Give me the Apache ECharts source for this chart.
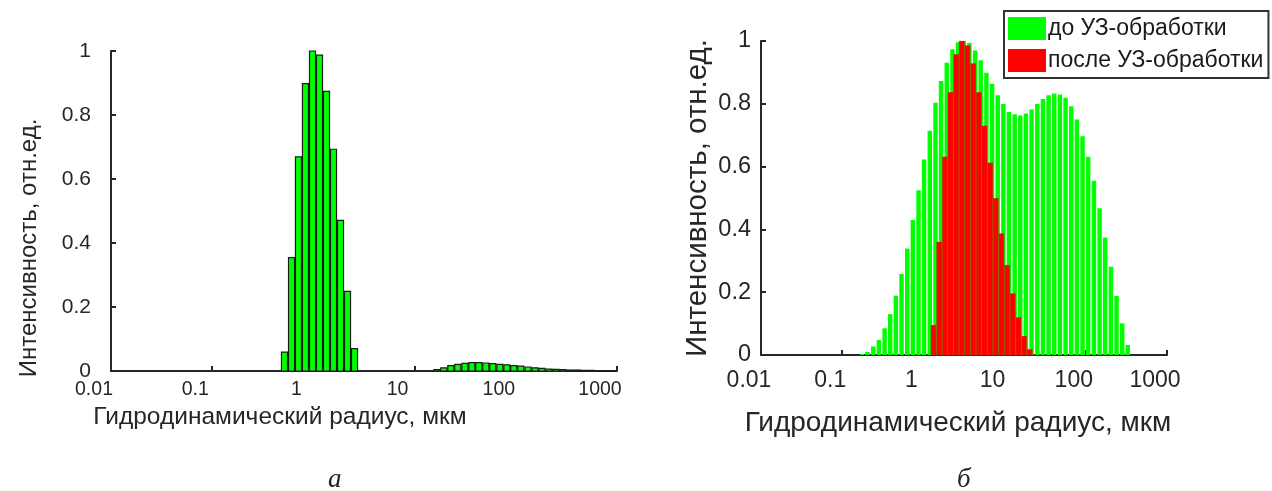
<!DOCTYPE html>
<html>
<head>
<meta charset="utf-8">
<script src="https://cdn.jsdelivr.net/npm/echarts@6/dist/echarts.min.js"></script>
<style>
  html, body { margin: 0; padding: 0; background: #fff; }
  #chart { width: 1272px; height: 491px; }
</style>
</head>
<body>
<div id="chart"></div>
<script>
// panel a: bin centres (um) and intensity
var leftRadius = [0.518, 0.608, 0.712, 0.835, 0.98, 1.149, 1.347, 1.58, 1.853, 2.173, 2.548,
  16.6, 19.4, 22.8, 26.7, 31.4, 36.8, 43.1, 50.6, 59.3, 69.6, 81.6, 95.7, 112, 132, 155,
  181, 213, 250, 293, 343, 403, 472, 554, 650, 762, 894];
var leftIntensity = [0.059, 0.354, 0.669, 0.898, 1.0, 0.987, 0.874, 0.693, 0.471, 0.249, 0.07,
  0.004, 0.01, 0.017, 0.021, 0.024, 0.026, 0.026, 0.025, 0.023, 0.021, 0.019, 0.017, 0.015, 0.0125, 0.01,
  0.008, 0.006, 0.005, 0.004, 0.003, 0.003, 0.002, 0.002, 0.001, 0.001, 0.001];

// panel b: before ultrasound
var beforeRadius = [0.175, 0.2055, 0.241, 0.283, 0.333, 0.39, 0.458, 0.538, 0.632, 0.742, 0.871, 1.02,
  1.2, 1.41, 1.65, 1.94, 2.28, 2.68, 3.14, 3.69, 4.33, 5.08, 5.97, 7.01, 8.23, 9.66, 11.3, 13.3,
  15.6, 18.3, 21.5, 25.3, 29.7, 34.8, 40.9, 48.0, 56.4, 66.2, 77.7, 91.2, 107, 126, 148, 173,
  204, 239, 281, 329];
var beforeIntensity = [0.003, 0.0095, 0.027, 0.048, 0.085, 0.13, 0.189, 0.258, 0.339, 0.43, 0.525, 0.623,
  0.714, 0.803, 0.873, 0.931, 0.974, 0.996, 1.0, 0.994, 0.97, 0.939, 0.899, 0.864, 0.827, 0.799, 0.774, 0.767,
  0.763, 0.769, 0.782, 0.799, 0.815, 0.827, 0.833, 0.83, 0.819, 0.792, 0.75, 0.697, 0.631, 0.555,
  0.467, 0.374, 0.281, 0.188, 0.101, 0.032];

// panel b: after ultrasound
var afterRadius = [1.335, 1.567, 1.84, 2.16, 2.536, 2.977, 3.495, 4.103, 4.817, 5.655, 6.639, 7.794,
  9.15, 10.74, 12.61, 14.8, 17.38, 20.4];
var afterIntensity = [0.095, 0.36, 0.631, 0.837, 0.958, 1.0, 0.986, 0.928, 0.837, 0.73, 0.612, 0.499,
  0.387, 0.286, 0.196, 0.12, 0.06, 0.018];

var xTickLabels = ['0.01', '0.1', '1', '10', '100', '1000'];
var seriesNames = ['до УЗ-обработки', 'после УЗ-обработки'];
var xName = 'Гидродинамический радиус, мкм';
var yName = 'Интенсивность, отн.ед.';

var binRatio = 1.1735;
var axisColor = '#262626';
var font = 'Liberation Sans, Arial, sans-serif';

function pairs(xs, ys) {
  return xs.map(function (x, i) { return [x, ys[i]]; });
}

function barRenderer(fill, stroke, lineWidth, gap) {
  return function (params, api) {
    var s = Math.sqrt(binRatio);
    var c = api.value(0);
    var p0 = api.coord([c / s, api.value(1)]);
    var p1 = api.coord([c * s, 0]);
    return {
      type: 'rect',
      shape: { x: p0[0] + gap / 2, y: p0[1], width: p1[0] - p0[0] - gap, height: p1[1] - p0[1] },
      style: { fill: fill, stroke: stroke, lineWidth: lineWidth }
    };
  };
}

function xAxisCfg(grid, fs, shift, margin, nameGap, nameShift, nameFs) {
  return {
    gridIndex: grid,
    type: 'log',
    logBase: 10,
    min: 0.01,
    max: 1000,
    name: xName,
    nameLocation: 'middle',
    nameGap: nameGap,
    nameTextStyle: { fontSize: nameFs, color: axisColor, fontFamily: font, padding: [0, nameShift, 0, 0] },
    axisLine: { lineStyle: { color: axisColor, width: 2 } },
    axisTick: { inside: true, length: 5, lineStyle: { color: axisColor, width: 2 } },
    splitLine: { show: false },
    axisLabel: {
      fontSize: fs, color: axisColor, fontFamily: font, margin: margin,
      padding: [0, shift, 0, 0],
      formatter: function (v, i) { return xTickLabels[i]; }
    }
  };
}

function yAxisCfg(grid, fs, margin, labelPad, nameGap, nameFs, nameShift) {
  return {
    gridIndex: grid,
    type: 'value',
    min: 0,
    max: 1,
    interval: 0.2,
    name: yName,
    nameLocation: 'middle',
    nameGap: nameGap,
    nameTextStyle: { fontSize: nameFs, color: axisColor, fontFamily: font, padding: [0, nameShift, 0, 0] },
    axisLine: { show: true, lineStyle: { color: axisColor, width: 2 } },
    axisTick: { show: true, inside: true, length: 5, lineStyle: { color: axisColor, width: 2 } },
    splitLine: { show: false },
    axisLabel: { fontSize: fs, color: axisColor, fontFamily: font, margin: margin, padding: labelPad }
  };
}

var myChart = echarts.init(document.getElementById('chart'));
var option = {
  backgroundColor: '#fff',
  animation: false,
  grid: [
    { left: 111, top: 51, width: 506, height: 320 },
    { left: 761, top: 41, width: 406, height: 314 }
  ],
  xAxis: [
    xAxisCfg(0, 19.5, 34, 9, 29, 168, 24.5),
    xAxisCfg(1, 23, 24, 14, 54, 12, 28)
  ],
  yAxis: [
    yAxisCfg(0, 21, 20, [0, 0, 7, 0], 70, 24, 74),
    yAxisCfg(1, 23.5, 10, [9, 0, 0, 0], 48, 29.5, 0)
  ],
  legend: {
    orient: 'vertical',
    left: 1004,
    top: 11,
    padding: [6, 5, 6, 4],
    itemGap: 9,
    itemWidth: 38,
    itemHeight: 23,
    icon: 'rect',
    backgroundColor: '#fff',
    borderColor: '#333',
    borderWidth: 2,
    borderRadius: 0,
    textStyle: { fontSize: 23, color: '#1a1a1a', fontFamily: font, padding: [0, 0, 0, -3] },
    data: seriesNames
  },
  series: [
    {
      name: 'a',
      type: 'custom',
      xAxisIndex: 0,
      yAxisIndex: 0,
      itemStyle: { color: '#00ff00' },
      renderItem: barRenderer('#00ff00', '#1a1a1a', 1.2, 1),
      data: pairs(leftRadius, leftIntensity)
    },
    {
      name: seriesNames[0],
      type: 'custom',
      xAxisIndex: 1,
      yAxisIndex: 1,
      itemStyle: { color: '#00ff00' },
      renderItem: barRenderer('#00ff00', null, 0, 1.2),
      data: pairs(beforeRadius, beforeIntensity)
    },
    {
      name: seriesNames[1],
      type: 'custom',
      xAxisIndex: 1,
      yAxisIndex: 1,
      itemStyle: { color: '#ff0000' },
      renderItem: barRenderer('#ff0000', 'rgba(110,110,0,0.5)', 0.6, 0.3),
      data: pairs(afterRadius, afterIntensity)
    }
  ],
  graphic: [
    { type: 'text', left: 328, top: 466, style: { text: 'а', fontSize: 27, fontStyle: 'italic', fontFamily: 'Liberation Serif, serif', fill: '#222' } },
    { type: 'text', left: 957, top: 466, style: { text: 'б', fontSize: 27, fontStyle: 'italic', fontFamily: 'Liberation Serif, serif', fill: '#222' } }
  ]
};
myChart.setOption(option);
</script>
</body>
</html>
